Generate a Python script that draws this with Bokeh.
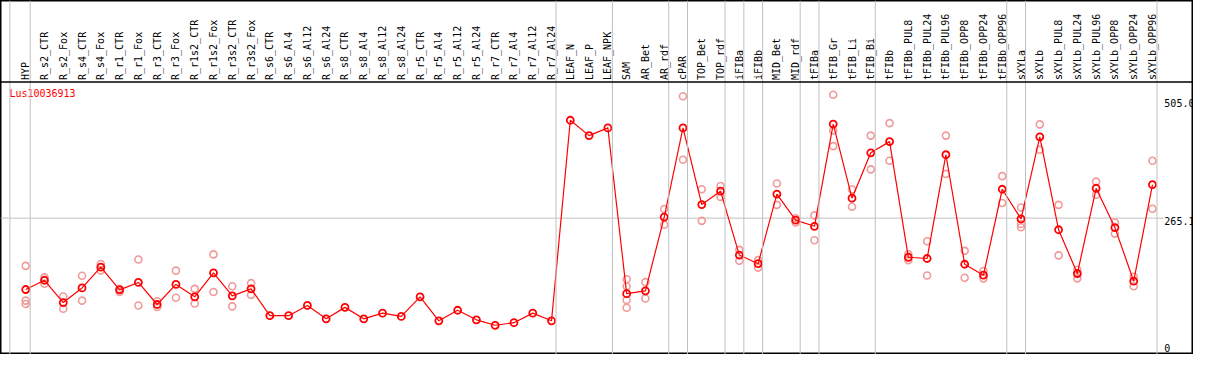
from math import pi
from bokeh.plotting import figure
from bokeh.models import Range1d, Span, ColumnDataSource
from bokeh.core.properties import value
from bokeh.embed import file_html
from bokeh.resources import INLINE

gene = "Lus10036913"

samples = [
    "HYP", "R_s2_CTR", "R_s2_Fox", "R_s4_CTR", "R_s4_Fox", "R_r1_CTR", "R_r1_Fox",
    "R_r3_CTR", "R_r3_Fox", "R_r1s2_CTR", "R_r1s2_Fox", "R_r3s2_CTR", "R_r3s2_Fox",
    "R_s6_CTR", "R_s6_Al4", "R_s6_Al12", "R_s6_Al24", "R_s8_CTR", "R_s8_Al4",
    "R_s8_Al12", "R_s8_Al24", "R_r5_CTR", "R_r5_Al4", "R_r5_Al12", "R_r5_Al24",
    "R_r7_CTR", "R_r7_Al4", "R_r7_Al12", "R_r7_Al24", "LEAF_N", "LEAF_P", "LEAF_NPK",
    "SAM", "AR_Bet", "AR_rdf", "cPAR", "TOP_Bet", "TOP_rdf", "iFIBa", "iFIBb",
    "MID_Bet", "MID_rdf", "tFIBa", "tFIB_Gr", "tFIB_Li", "tFIB_Bi", "tFIBb",
    "tFIBb_PUL8", "tFIBb_PUL24", "tFIBb_PUL96", "tFIBb_OPP8", "tFIBb_OPP24",
    "tFIBb_OPP96", "sXYLa", "sXYLb", "sXYLb_PUL8", "sXYLb_PUL24", "sXYLb_PUL96",
    "sXYLb_OPP8", "sXYLb_OPP24", "sXYLb_OPP96",
]

means = [
    126.3, 144.3, 100.9, 129.4, 169.8, 125.7, 140.0,
    97.2, 136.3, 112.1, 158.7, 114.0, 127.6,
    75.4, 75.4, 95.3, 69.3, 91.6, 69.3,
    80.4, 74.1, 112.1, 65.5, 86.0, 67.4,
    56.8, 61.8, 80.4, 65.5, 455.3, 425.5, 440.4,
    118.2, 123.8, 267.2, 440.4, 291.4, 317.5, 193.3, 176.5,
    311.9, 261.1, 249.2, 447.9, 303.9, 392.0, 413.8,
    189.0, 186.6, 388.3, 175.4, 154.2,
    321.2, 263.5, 423.1, 242.5, 157.4, 323.1,
    246.7, 142.5, 330.0,
]

replicates = [
    [172.3, 104.7, 98.3], [149.9, 137.4], [112.7, 89.0], [153.1, 104.7], [176.0, 163.5],
    [127.6, 121.4], [184.7, 95.3], [103.4, 92.2], [163.0, 110.2], [127.6, 99.1],
    [194.6, 121.4], [132.6, 93.5], [138.7, 115.8],
    [], [], [], [], [], [], [], [], [], [], [], [], [], [], [], [],
    [], [], [],
    [146.2, 132.6, 105.8, 90.9], [140.6, 108.9], [282.7, 252.3], [501.9, 378.4],
    [321.2, 259.8], [327.4, 306.3], [203.4, 182.1], [183.4, 168.5],
    [332.4, 290.9], [264.8, 256.6], [270.4, 222.0], [505.0, 435.4, 405.0],
    [320.7, 287.2], [425.5, 359.8], [449.7, 376.5],
    [194.6, 183.4], [220.1, 153.6], [425.5, 351.0], [201.5, 149.3], [162.4, 148.0],
    [346.7, 294.6], [285.8, 253.6, 247.3], [447.3, 398.1], [290.9, 192.7],
    [164.8, 148.0], [336.1, 310.6], [256.6, 235.0], [151.2, 132.6], [376.5, 283.4],
]

group_ends = ["HYP", "R_r7_Al24", "LEAF_NPK", "AR_rdf", "cPAR", "TOP_rdf", "iFIBa",
              "iFIBb", "MID_rdf", "tFIBa", "tFIB_Bi", "tFIBb_OPP96", "sXYLa", "sXYLb_OPP96"]

y_ticks = [0, 265.1, 505.0]
y_tick_labels = ["0", "265.1", "505.0"]
gridlines = [265.1]

# ---- layout (reference pixel geometry) ----
PX0, PXSTEP = 26.0, 19.0      # pixel x of first column, column pitch
PY0, PYSCALE = 369.5, 0.537   # pixel y of value 0, pixels per unit


def xi(px):
    return (px - PX0) / PXSTEP


def yv(py):
    return (PY0 - py) / PYSCALE


FONT = value("DejaVu Sans Mono")
RED = "#ff0000"
PINK = "#f09a9a"
GRAY = "#c0c0c0"

p = figure(width=1193, height=354,
           x_range=Range1d(xi(0.5), xi(1207.5)),
           y_range=Range1d(yv(369.5), yv(0.0)),
           output_backend="svg", toolbar_location=None,
           min_border=0, min_border_left=0, min_border_right=0,
           min_border_top=0, min_border_bottom=0)
p.xaxis.visible = False
p.yaxis.visible = False
p.xgrid.visible = False
p.ygrid.visible = False
p.outline_line_color = "black"
p.outline_line_width = 2
p.background_fill_color = "white"
p.border_fill_color = "white"

idx = list(range(len(samples)))

# vertical group separators
p.add_layout(Span(location=xi(10), dimension="height", line_color=GRAY, line_width=1))
for name in group_ends:
    p.add_layout(Span(location=samples.index(name) + 0.24, dimension="height",
                      line_color=GRAY, line_width=1))

# header separator
p.add_layout(Span(location=yv(85), dimension="width", line_color="black", line_width=1.5))

# horizontal gridline(s)
for g in gridlines:
    p.segment(x0=[xi(0.5)], y0=[g], x1=[xi(1177)], y1=[g], line_color=GRAY, line_width=1)

# sample labels (rotated)
p.text(x=idx, y=[yv(83)] * len(samples), text=samples, angle=pi / 2,
       text_font=FONT, text_font_size="10px", text_color="black",
       text_align="left", text_baseline="middle")

# title
p.text(x=[xi(9.5)], y=[yv(97)], text=[gene], text_font=FONT, text_font_size="10px",
       text_color=RED, text_align="left", text_baseline="middle")

# y tick labels
tick_src = ColumnDataSource(dict(x=[xi(1178)] * len(y_ticks), y=y_ticks, t=y_tick_labels,
                                 off=[-7, 3, 8]))
p.text(x="x", y="y", text="t", y_offset="off", source=tick_src, text_font=FONT,
       text_font_size="10px", text_color="black", text_align="left", text_baseline="middle")

# replicates
rx, ry = [], []
for i, reps in enumerate(replicates):
    for r in reps:
        rx.append(i)
        ry.append(r)
p.scatter(rx, ry, marker="circle", size=7, fill_color=None, line_color=PINK, line_width=1.6)

# mean line and markers
p.line(idx, means, line_color=RED, line_width=1.2)
p.scatter(idx, means, marker="circle", size=7, fill_color=None, line_color=RED, line_width=1.8)

open("out.html", "w").write(file_html(p, INLINE))
